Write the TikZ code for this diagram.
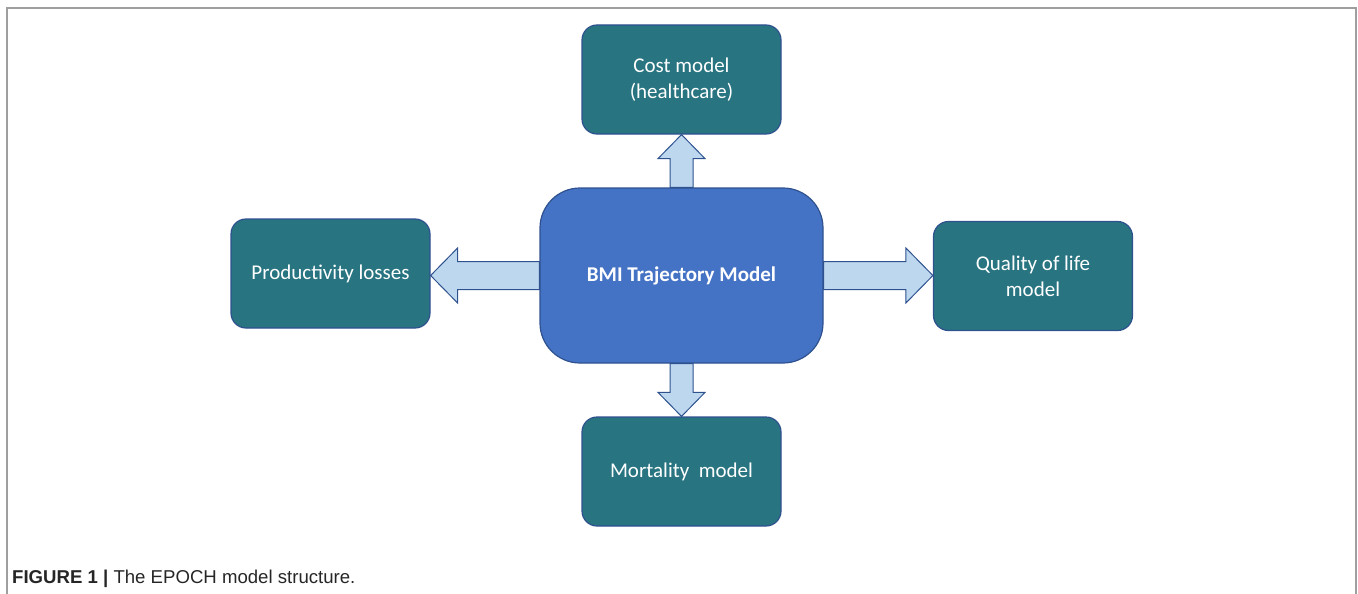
\documentclass[tikz,border=0pt]{standalone}
\usepackage{fontspec}
\setmainfont{Carlito}
\newfontfamily\capfont{Liberation Sans}
\usepackage{xcolor}
\usetikzlibrary{calc}

\definecolor{tealbox}{HTML}{287481}
\definecolor{bmiblue}{HTML}{4472C4}
\definecolor{edgeblue}{HTML}{2F528F}
\definecolor{arrowfill}{HTML}{BDD7EE}

\tikzset{
    submodel/.style={draw=edgeblue, line width=1.2pt, fill=tealbox, rounded corners=15pt,
        minimum width=199pt, minimum height=109pt, text=white, align=center,
        font=\fontsize{21}{26}\selectfont},
    mainmodel/.style={draw=edgeblue, line width=1.2pt, fill=bmiblue, rounded corners=40pt,
        minimum width=283pt, minimum height=175pt, text=white, align=center,
        font=\fontsize{21}{26}\selectfont\bfseries},
    blockarrow/.style={draw=edgeblue, line width=1pt, fill=arrowfill, line join=miter}
}

\begin{document}
\begin{tikzpicture}[x=1pt, y=-1pt]
    \useasboundingbox (0,0) rectangle (1358,594);

    % frame
    \draw[gray!75, line width=1.5pt] (7,594) -- (7,8) -- (1356,8) -- (1356,594);

    % models
    \node[mainmodel] (bmi) at (681.5,275.5) {BMI Trajectory Model};
    \node[submodel] (cost) at (681.5,79.5) {Cost model\\(healthcare)};
    \node[submodel] (mort) at (681.5,471.5) {Mortality\ \ model};
    \node[submodel] (prod) at (330.5,273.5) {Productivity losses};
    \node[submodel] (qol) at (1033,276) {Quality of life\\model};

    % arrows
    \draw[blockarrow] ($(bmi.north)+(-11.5,0)$) |- ($(cost.south)+(-23.5,24)$) -- (cost.south)
        -- ($(cost.south)+(23.5,24)$) -| ($(bmi.north)+(11.5,0)$) -- cycle;
    \draw[blockarrow] ($(bmi.south)+(-11.5,0)$) |- ($(mort.north)+(-23.5,-24)$) -- (mort.north)
        -- ($(mort.north)+(23.5,-24)$) -| ($(bmi.south)+(11.5,0)$) -- cycle;
    \draw[blockarrow] ($(bmi.west)+(0,-14)$) -| ($(prod.east |- bmi.west)+(27,-27.5)$)
        -- (prod.east |- bmi.west) -- ($(prod.east |- bmi.west)+(27,27.5)$) |- ($(bmi.west)+(0,14)$) -- cycle;
    \draw[blockarrow] ($(bmi.east)+(0,-14)$) -| ($(qol.west |- bmi.east)+(-27,-27.5)$)
        -- (qol.west |- bmi.east) -- ($(qol.west |- bmi.east)+(-27,27.5)$) |- ($(bmi.east)+(0,14)$) -- cycle;

    % caption
    \node[anchor=base west, inner sep=0pt, text=black!85, font=\capfont\fontsize{18.6}{21}\selectfont] (caption) at (12,583)
        {\textbf{FIGURE 1 |} The EPOCH model structure.};
\end{tikzpicture}
\end{document}
